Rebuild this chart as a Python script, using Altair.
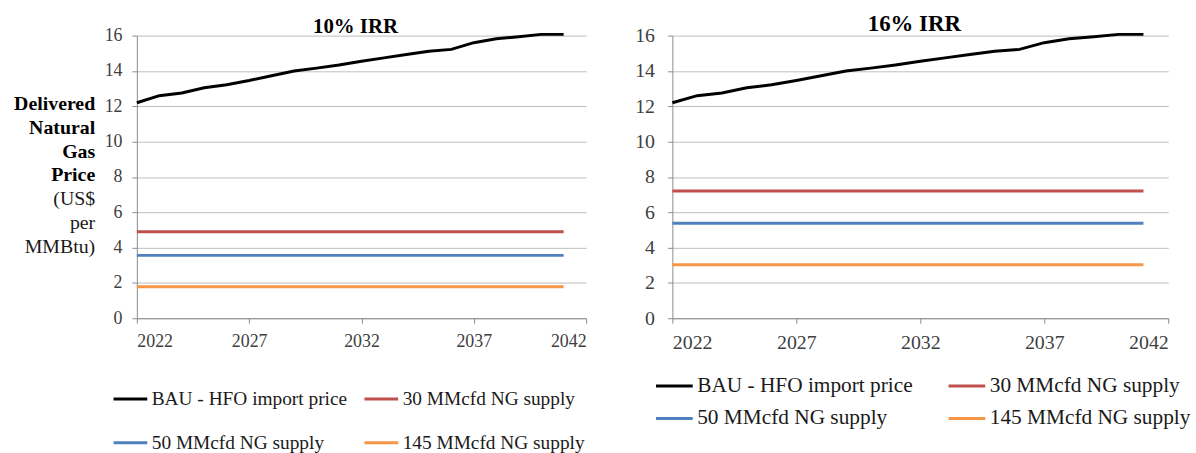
import altair as alt
import pandas as pd

# Series and category values
years = list(range(2022, 2042))
bau_price = [12.2, 12.6, 12.75, 13.05, 13.22, 13.46, 13.73, 14.0, 14.16, 14.34,
             14.55, 14.74, 14.93, 15.11, 15.22, 15.6, 15.82, 15.94, 16.07, 16.07]
# legend fills column by column, so the order puts BAU / 30 on the first row
series_names = ["BAU - HFO import price", "50 MMcfd NG supply",
                "30 MMcfd NG supply", "145 MMcfd NG supply"]
series_colors = ["#000000", "#4F81BD", "#C0504D", "#F79646"]
supply_names = ["30 MMcfd NG supply", "50 MMcfd NG supply", "145 MMcfd NG supply"]
supply_price_10 = [4.9, 3.56, 1.78]   # 30, 50, 145 MMcfd at 10% IRR
supply_price_16 = [7.2, 5.38, 3.03]   # 30, 50, 145 MMcfd at 16% IRR
x_ticks = [2022, 2027, 2032, 2037, 2042]
y_ticks = [0, 2, 4, 6, 8, 10, 12, 14, 16]
ytitle_bold = ["Delivered", "Natural", "Gas", "Price"]
ytitle_unit = ["(US$", "per", "MMBtu)"]

FONT = "'Liberation Serif', 'Times New Roman', 'DejaVu Serif', serif"


def frame(supply):
    rows = [{"series": "BAU - HFO import price", "year": y, "price": v}
            for y, v in zip(years, bau_price)]
    for name, val in zip(supply_names, supply):
        rows += [{"series": name, "year": y, "price": val} for y in years]
    return pd.DataFrame(rows)


def panel(title, supply, w, h, fs, title_fs, ypad, legend):
    lines = alt.Chart(frame(supply)).mark_line(strokeWidth=3).encode(
        x=alt.X("year:Q",
                scale=alt.Scale(domain=[2022, 2042], nice=False, zero=False),
                axis=alt.Axis(values=x_ticks, format="d", grid=False, title=None,
                              labelFont=FONT, labelFontSize=fs, labelPadding=9)),
        y=alt.Y("price:Q",
                scale=alt.Scale(domain=[0, 16], nice=False),
                axis=alt.Axis(values=y_ticks, grid=True, title=None, domain=True,
                              labelFont=FONT, labelFontSize=fs, labelPadding=ypad)),
        color=alt.Color("series:N",
                        scale=alt.Scale(domain=series_names, range=series_colors),
                        sort=series_names, legend=legend),
    )
    return lines.properties(
        width=w, height=h,
        title=alt.TitleParams(title, font=FONT, fontSize=title_fs,
                              fontWeight="bold", color="#000000",
                              anchor="middle", offset=-10, dx=-6),
    )


legend_left = alt.Legend(
    orient="none", legendX=-25, legendY=348, columns=2, title=None,
    symbolType="stroke", symbolSize=1156, symbolStrokeWidth=3,
    labelFont=FONT, labelFontSize=19.5, labelColor="#1a1a1a", labelOffset=3,
    labelLimit=400, columnPadding=10, rowPadding=16,
)
legend_right = alt.Legend(
    orient="none", legendX=-18, legendY=333, columns=2, title=None,
    symbolType="stroke", symbolSize=1369, symbolStrokeWidth=3,
    labelFont=FONT, labelFontSize=21.5, labelColor="#1a1a1a", labelOffset=3,
    labelLimit=400, columnPadding=29, rowPadding=2,
)

left = panel("10% IRR", supply_price_10, 453, 285, 18, 21, 10, legend_left)
right = panel("16% IRR", supply_price_16, 500, 285, 20, 23, 13, legend_right)

one = pd.DataFrame({"k": [0]})
title_bold = alt.Chart(one).mark_text(
    text="\n".join(ytitle_bold), lineBreak="\n", lineHeight=24,
    font=FONT, fontSize=20, fontWeight="bold", align="right", baseline="top",
    color="#000000",
).encode(x=alt.value(-42), y=alt.value(59))
title_unit = alt.Chart(one).mark_text(
    text="\n".join(ytitle_unit), lineBreak="\n", lineHeight=24,
    font=FONT, fontSize=20, align="right", baseline="top", color="#1a1a1a",
).encode(x=alt.value(-42), y=alt.value(155))

left_panel = alt.layer(left, title_bold, title_unit)

chart = alt.hconcat(left_panel, right, spacing=87, bounds="flush").resolve_legend(
    color="independent"
).properties(
    padding={"left": 14, "top": 11, "right": 5, "bottom": 5}
).configure_view(stroke=None).configure_axis(
    labelFont=FONT, labelColor="#404040", domainColor="#8c8c8c",
    tickColor="#8c8c8c", gridColor="#bdbdbd", tickSize=5, domainWidth=1,
    gridWidth=1,
).configure_legend(labelFont=FONT).configure_title(font=FONT)

chart.save("out.html", embed_options={"renderer": "svg", "actions": False})
